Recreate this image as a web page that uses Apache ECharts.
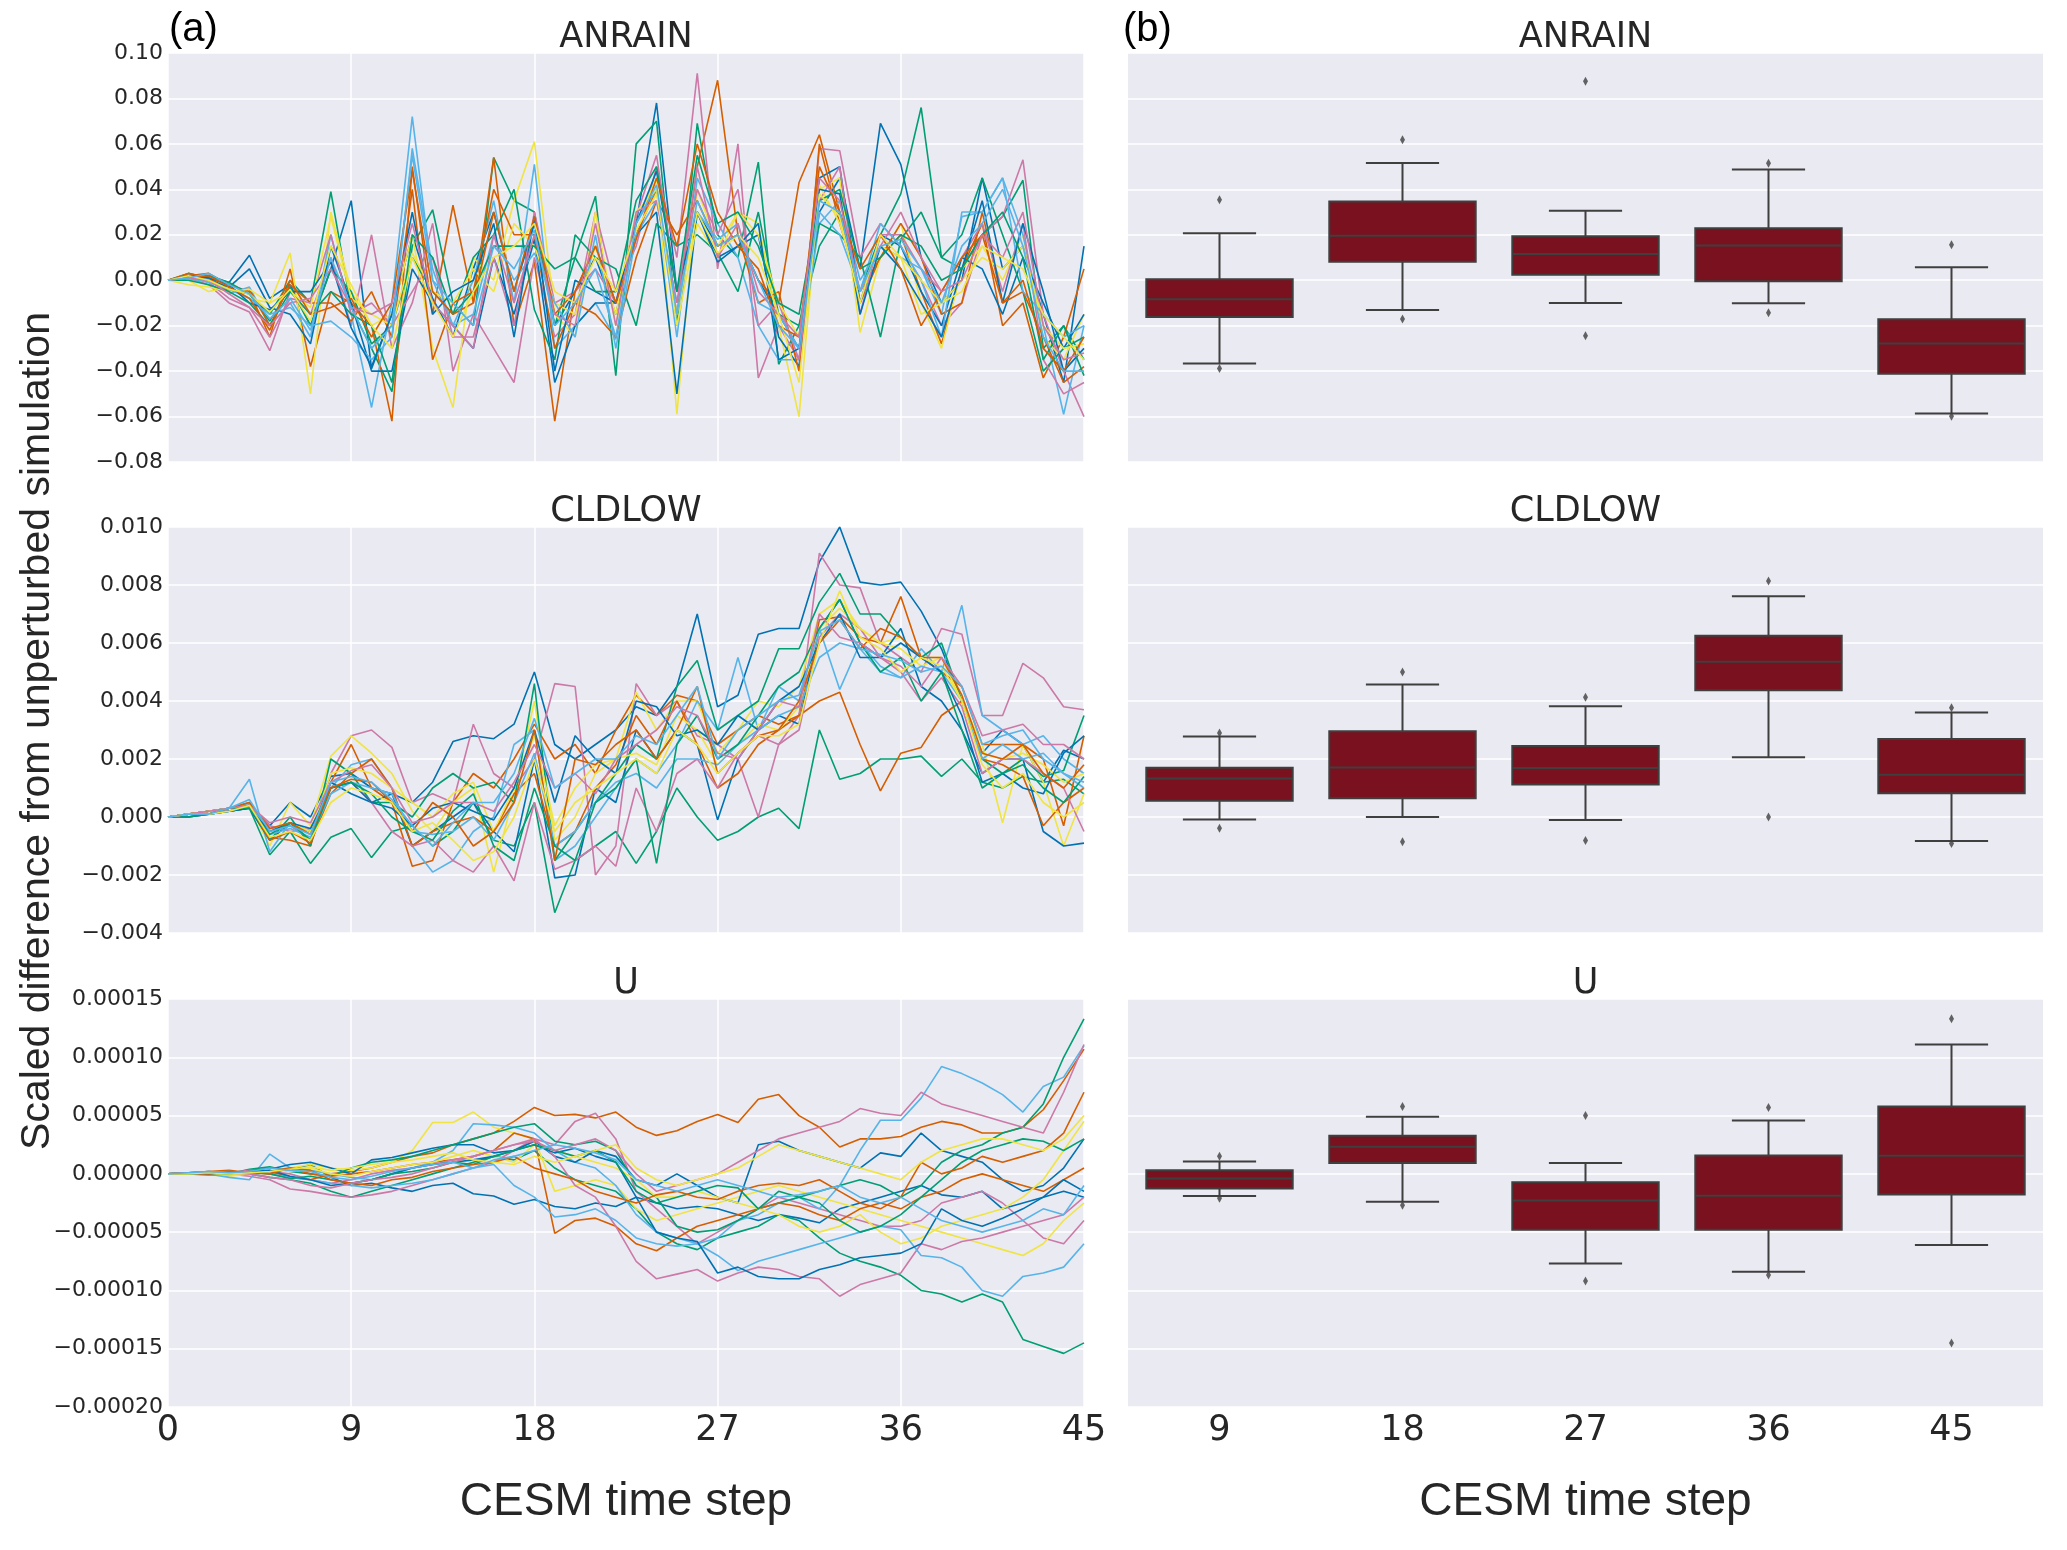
<!DOCTYPE html>
<html>
<head>
<meta charset="utf-8">
<title>Ensemble spread of CESM variables</title>
<script src="https://cdn.jsdelivr.net/npm/echarts@6/dist/echarts.min.js"></script>
<style>
  html, body { margin: 0; padding: 0; background: #ffffff; }
  #chart { width: 2067px; height: 1550px; }
</style>
</head>
<body>
<div id="chart"></div>
<script>
var timeSteps = [0,1,2,3,4,5,6,7,8,9,10,11,12,13,14,15,16,17,18,19,20,21,22,23,24,25,26,27,28,29,30,31,32,33,34,35,36,37,38,39,40,41,42,43,44,45];
var boxSteps = ['9', '18', '27', '36', '45'];
var palette = ['#0072B2', '#009E73', '#D55E00', '#CC79A7', '#F0E442', '#56B4E9'];

// ANRAIN, one row per ensemble member, values in units of 1e-3
var anrainRuns = [
  [0,1,2,-1,11,-8,-2,-20,5,35, -39,-15,20,-8,-25,5,30,-5,25,-20, -5,10,-15,25,78,-5,30,15,20,0, -15,-30,30,45,5,69,51,10,-10,0, 45,5,15,-15,-45,15],
  [0,3,1,-4,-6,-15,0,-10,39,-12, -30,-49,15,31,-10,-20,54,35,30,-20, 10,37,-42,60,70,-20,69,20,10,52, -37,-20,15,30,-5,20,38,76,10,5, 20,28,44,-30,-20,-35],
  [0,2,3,-2,-5,-25,5,-38,-5,-10, -20,-62,50,-15,33,-10,54,-20,8,-62, -5,15,-10,20,40,-15,50,88,20,0, -10,43,64,30,-10,10,20,-5,-28,5, 25,-20,-10,-43,-25,5],
  [0,1,-2,-10,-14,-31,-5,-15,10,-20, 20,-30,-10,25,-40,-15,-30,-45,10,-25, -15,30,-5,15,50,10,91,5,60,-43, -20,-35,58,57,10,25,15,0,-20,-10, 20,28,53,-15,-40,-60],
  [0,0,-5,-3,-8,-10,12,-50,30,-5, -20,-15,20,-30,-56,10,0,35,61,-15, -25,30,-20,25,45,-59,40,15,30,25, -20,-60,40,45,-23,10,25,-10,-30,5, 15,0,20,-25,-35,-15],
  [0,0,1,-6,-3,-20,-10,-25,20,-15, -56,-10,72,0,-20,0,35,-10,51,-30, -20,-10,-26,25,40,-25,45,25,10,-20, -35,-35,25,35,0,15,10,5,-15,28, 30,45,20,-20,-59,-20],
  [0,2,0,-3,5,-12,-15,-28,15,-10, -40,-40,5,-10,-20,-30,10,-15,18,-45, -20,-10,-10,20,30,-50,30,10,15,20, -25,-38,45,50,-10,20,15,-5,-20,10, 5,-15,10,-10,-30,-15],
  [0,1,2,-1,-6,-18,-3,-20,5,-5, -28,-20,10,-5,-15,10,20,40,-13,-35, 20,10,5,-20,25,15,20,12,-5,30, -15,-20,25,20,10,-25,18,30,10,20, 45,20,-5,-40,-30,-25],
  [0,3,1,-5,-4,-20,-2,-10,-10,-18, -5,-25,40,-35,-10,-5,40,20,20,-30, -10,-15,-25,10,35,20,35,15,20,-10, -5,-40,60,25,-5,10,25,10,-15,-10, 30,-10,-5,-25,-45,-38],
  [0,2,-1,-8,-12,-25,-8,-10,20,-15, -10,-20,-5,10,-25,-25,10,-20,30,-10, -5,5,-10,28,55,-5,40,20,40,-20, -10,-35,35,50,-15,20,20,5,-5,10, 25,-5,25,-35,-50,-45],
  [0,-2,-3,-5,-4,-10,-5,-12,28,-8, -15,-20,12,-5,-10,5,-5,25,15,-10, -15,15,-15,30,40,-20,25,10,30,20, -10,-25,42,25,-5,15,10,-15,-10,0, 10,5,15,-20,-30,-28],
  [0,1,-1,-4,-8,-15,-12,-20,-18,-25, -35,-25,58,5,-20,-15,20,0,12,-10, -25,20,-30,20,35,-10,30,18,25,-10, -15,-30,30,20,-5,25,15,0,-25,30, 30,45,-5,-15,-25,-20],
  [0,2,1,-2,-10,-13,-5,-5,8,-21, -38,-15,30,-15,-5,0,25,-25,28,-40, 0,-5,-10,25,48,-5,30,8,15,25, -35,-30,40,38,-15,15,5,-10,-25,5, 35,-10,25,-5,-40,-30],
  [0,0,-2,-5,-10,-20,-5,-15,-5,-15, -20,-45,20,10,-15,-5,15,15,15,5, 10,-5,-5,35,50,-5,55,25,30,15, -10,-15,35,40,5,10,20,15,0,5, 20,30,10,-35,-20,-42],
  [0,1,2,-3,-8,-22,0,-15,-12,-8, -25,-10,48,-5,-15,-10,30,-5,28,-15, -5,15,-10,18,45,15,60,30,15,5, -20,-25,50,30,5,20,5,-20,-5,10, 20,-10,0,-30,-40,-25],
  [0,1,0,-6,-12,-20,-10,-8,5,-12, -15,-10,25,-10,-20,-30,20,-10,20,-15, -20,25,-20,30,35,-10,50,10,25,-5, -15,-25,45,35,-5,15,30,10,-5,0, 20,10,30,-20,-35,-32],
  [0,2,0,-4,-6,-14,-4,-18,15,-2, -20,-30,10,-10,-25,-5,10,15,25,-5, -10,10,-5,22,38,-15,30,12,20,10, -15,-45,38,28,-10,20,10,0,-10,-5, 15,10,5,-15,-25,-35],
  [0,1,3,-2,-6,-17,-8,-22,10,-12, -30,-20,55,0,-10,-20,15,5,22,-20, -10,5,-25,25,42,-15,35,15,20,0, -20,-30,35,30,-5,15,18,5,-10,15, 25,40,15,-25,-40,-40]
];
// [lower whisker, Q1, median, Q3, upper whisker] at steps 9, 18, 27, 36, 45
var anrainBoxes = [
  [-36.6, -16.2, -8.4, 0.4, 20.7],
  [-13.1, 8.1, 19.6, 34.7, 51.6],
  [-10.0, 2.4, 11.5, 19.4, 30.6],
  [-10.1, -0.4, 15.3, 22.9, 48.7],
  [-58.7, -41.2, -27.9, -17.2, 5.7]
];
var anrainFliers = [['9', 35.4], ['9', -38.8], ['18', 61.8], ['18', -17.1], ['27', 87.6], ['27', -24.4], ['36', 51.5], ['36', -14.3], ['45', 15.6], ['45', -59.9]];

// CLDLOW, values in units of 1e-4
var cldlowRuns = [
  [0,1,2,3,4,-3,5,0,14,15, 10,8,5,12,26,28,27,32,50,25, 20,25,30,38,35,45,70,38,42,63, 65,65,88,100,81,80,81,71,58,40, 22,30,25,12,23,20],
  [0,1,1,2,3,-13,-5,-16,-7,-4, -14,-5,-3,-10,-5,5,-8,-10,5,-33, -15,-10,-5,-16,-5,10,0,-8,-5,0, 3,-4,30,13,15,20,20,21,14,20, 12,10,14,12,13,8],
  [0,1,2,3,5,-7,-8,-10,12,25, 10,5,-17,-15,5,15,10,20,32,20, 25,15,30,42,35,42,40,25,30,35, 32,35,68,69,62,60,76,55,50,45, 25,25,25,20,-3,28],
  [0,1,2,3,3,-4,-3,-8,15,28, 30,24,5,8,5,32,15,10,20,46, 45,-20,-10,46,35,40,28,25,20,0, 25,35,91,80,79,60,55,50,65,63, 35,35,53,48,38,37],
  [0,0,1,3,4,-10,5,-3,21,28, 22,15,2,-5,5,10,-19,8,40,-8, 0,15,20,43,30,40,40,22,30,40, 38,45,70,75,65,60,62,55,55,40, 25,-2,25,12,-10,8],
  [0,1,2,3,13,-12,-2,-8,10,18, 20,10,-10,-19,-15,-5,0,25,30,-15, -10,0,10,20,15,25,40,30,55,30, 45,40,65,44,60,52,48,58,50,73, 35,30,25,28,20,15],
  [0,1,1,2,3,-8,-2,-5,12,8, 5,8,-10,-5,0,5,-5,-12,20,-21, -20,10,5,30,20,30,25,-1,20,30, 35,32,65,75,60,55,65,45,40,30, 15,20,20,-5,-10,-9],
  [0,1,2,3,4,-8,0,-10,20,15, 5,5,0,10,15,10,12,5,46,-15, -5,5,15,25,20,45,54,30,35,40, 58,58,74,84,70,70,62,55,60,40, 20,15,20,14,16,35],
  [0,1,2,2,4,-8,-5,-9,8,15, 20,10,-10,-5,-2,0,-5,8,15,-10, -5,10,18,35,25,40,25,10,15,25, 30,35,40,43,25,9,22,24,35,40, 20,18,14,-3,5,10],
  [0,0,2,2,4,-3,-5,-4,10,12, 5,-5,-10,-8,-15,-19,-10,-22,5,-18, -15,-10,-17,10,-5,15,20,10,22,28, 25,30,62,70,65,55,50,40,48,38, 15,20,20,15,10,-5],
  [0,1,2,3,3,-5,-2,-5,15,17, 15,10,5,0,8,12,-5,10,28,-3, 10,18,20,22,18,35,30,18,25,32, 30,38,65,72,65,60,58,52,55,40, 22,20,22,18,12,15],
  [0,0,1,2,5,-6,-4,-7,8,12, 10,8,-5,-6,-5,0,-8,5,22,-10, -5,5,12,15,10,20,20,18,25,30, 35,38,55,60,58,50,48,52,50,40, 20,25,20,22,15,10],
  [0,0,1,2,3,-5,-2,-4,10,12, 5,3,-3,3,5,2,-1,10,30,5, 28,20,15,40,38,28,30,25,35,30, 40,45,60,70,55,55,60,55,50,35, 12,15,10,8,22,28],
  [0,0,1,3,3,-6,-2,-8,10,12, 8,0,-5,-8,2,8,-10,-15,10,-10, -15,5,10,20,-16,25,35,20,25,35, 45,50,65,75,60,50,55,40,50,30, 10,15,18,10,5,14],
  [0,1,1,3,5,-4,-2,-6,10,13, 12,5,-5,5,0,-10,-5,5,30,-15, 20,18,25,30,20,30,45,15,22,28, 30,40,60,68,58,65,62,55,55,42, 22,20,25,15,10,18],
  [0,1,2,3,4,-2,0,-2,12,16, 18,10,-2,0,5,5,2,12,25,10, 15,8,20,25,30,38,35,22,20,30, 40,38,70,62,60,55,52,45,55,45, 28,30,32,25,25,20],
  [0,1,1,2,4,-7,-5,-8,5,10, 8,5,-5,-2,-8,-15,-12,0,20,-5, 5,10,15,20,15,30,25,15,22,28, 28,32,60,78,62,58,50,55,52,40, 18,10,15,5,0,5],
  [0,1,1,3,6,-5,-3,-6,12,14, 12,6,-3,-10,-2,5,5,15,34,10, 15,20,20,28,25,35,45,20,30,35, 40,42,64,68,58,56,54,50,52,45, 25,28,30,20,15,12]
];
var cldlowBoxes = [
  [-0.9, 5.6, 13.3, 17.0, 27.8],
  [0.0, 6.5, 17.1, 29.6, 45.7],
  [-1.0, 11.2, 16.9, 24.5, 38.2],
  [20.6, 43.7, 53.5, 62.5, 76.1],
  [-8.3, 8.2, 14.6, 26.9, 36.0]
];
var cldlowFliers = [['9', 29.0], ['9', -3.9], ['18', 50.0], ['18', -8.5], ['27', 41.3], ['27', -8.1], ['36', 81.4], ['36', 0.0], ['45', 37.7], ['45', -9.1]];

// U, values in units of 1e-6
var uRuns = [
  [0,1,0,-1,2,5,3,8,-3,-10, -8,-12,-15,-10,-8,-17,-19,-26,-22,-28, -30,-25,-28,-20,-25,-30,-28,-30,-35,-40, -35,-38,-42,-30,-25,-20,-15,-10,-18,-20, -15,-30,-25,-20,-15,-20],
  [0,0,1,2,0,-3,-5,-8,-15,-20, -15,-10,-5,0,5,10,15,12,20,5, -5,-10,-15,-30,-50,-60,-65,-55,-50,-45, -35,-40,-55,-68,-75,-80,-87,-100,-103,-110, -103,-110,-142,-148,-154,-145],
  [0,1,2,3,1,2,-3,-5,0,2, 5,10,15,18,25,30,35,45,57,50, 51,48,53,40,33,37,45,51,44,64, 68,50,40,23,30,30,32,40,45,42, 35,35,40,55,80,107],
  [0,0,1,0,-2,-5,-13,-15,-18,-20, -18,-15,-10,-5,0,5,10,20,30,25, 45,52,30,-15,-30,-45,-60,-50,-40,-30, -20,-25,-30,-35,-40,-45,-45,-40,-25,-20, -15,-25,-40,-55,-60,-40],
  [0,0,-1,-2,0,3,5,8,5,3, 5,10,20,44,44,53,40,35,30,-15, -10,-5,-10,-30,-40,-35,-30,-25,-20,-15, -10,-15,-20,-25,-30,-35,-40,-45,-50,-55, -60,-65,-70,-60,-40,-25],
  [0,1,0,-3,-5,17,5,3,0,-3, -5,0,5,10,20,43,42,40,35,20, 10,5,-10,-35,-50,-55,-60,-55,-40,-35, -25,-20,-30,-10,20,46,46,65,92,86, 78,68,53,75,83,110],
  [0,0,1,0,3,4,8,10,5,0, 12,14,18,22,25,25,18,20,28,15, 10,20,15,-5,-10,0,-10,-20,-25,25, 28,20,15,10,5,18,15,35,20,15, 10,-5,-15,-10,5,30],
  [0,1,2,0,4,6,2,0,-2,5, 10,12,15,20,25,30,35,40,43,28, 25,28,20,-10,-20,-45,-50,-48,-40,-30, -25,-20,-15,-10,-5,-10,-20,-10,10,20, 25,35,40,60,100,133],
  [0,0,-1,0,2,3,5,0,-2,0, 2,5,8,10,12,15,20,35,30,-51, -40,-38,-45,-60,-66,-55,-45,-40,-35,-30, -25,-28,-35,-40,-30,-25,-30,-20,-15,-5, 0,-5,-10,-15,-5,5],
  [0,0,1,1,3,2,0,-5,-8,-5, 0,3,5,8,12,15,20,25,30,15, -10,-20,-45,-75,-90,-86,-82,-92,-85,-80, -82,-88,-90,-105,-95,-90,-85,-60,-65,-58, -55,-50,-45,-40,-35,-20],
  [0,1,0,-1,2,4,2,5,0,-2, 2,5,8,10,15,20,15,10,25,20, 15,10,5,-5,-20,-20,-15,-20,-25,-30, -35,-45,-50,-45,-35,-50,-60,-55,-45,-40, -35,-30,-20,-5,20,45],
  [0,0,1,2,1,0,-3,-5,-8,-10, -12,-10,-8,-5,0,5,8,-10,-20,-37, -35,-30,-40,-55,-60,-62,-60,-70,-83,-75, -70,-65,-60,-55,-50,-45,-48,-70,-72,-80, -100,-105,-88,-85,-80,-60],
  [0,1,0,1,2,3,-2,-5,-10,-8, -5,0,5,8,10,12,15,20,25,18, 22,15,10,-20,-50,-55,-58,-85,-80,-88, -90,-90,-82,-78,-72,-70,-68,-60,-30,-40, -45,-38,-30,-20,-5,-15],
  [0,0,1,0,2,0,-4,-2,-5,-8, -5,0,2,5,10,8,15,20,25,20, 15,20,10,-15,-25,-20,-15,-10,-12,-30, -15,-20,-25,-40,-50,-45,-35,-20,-5,10, 20,25,30,28,20,30],
  [0,1,0,2,1,0,5,3,-5,-8, -10,-5,-3,2,5,8,10,15,5,0, -5,-15,-20,-25,-18,-15,-20,-22,-15,-10, -8,-10,-5,-15,-25,-30,-20,10,0,5, 15,10,15,20,35,70],
  [0,1,2,1,0,-3,-5,-10,-12,-8, -5,-3,0,5,10,15,20,25,28,20, 25,30,20,0,-15,-10,-5,0,10,20, 30,35,40,45,56,52,50,70,60,55, 50,45,40,35,70,111],
  [0,0,1,0,1,2,4,6,3,5, 8,10,12,15,18,12,10,8,15,10, 15,20,25,5,-5,-10,-5,0,5,15, 25,20,15,10,5,0,-5,10,20,25, 30,30,25,20,30,50],
  [0,1,2,1,2,5,3,2,-3,-5, -2,2,5,8,10,5,12,15,20,25, 22,18,12,-5,-10,-15,-10,-5,-10,-15, -20,-18,-15,-10,-20,-25,-20,-30,-40,-45, -50,-45,-40,-30,-35,-10]
];
var uBoxes = [
  [-19.0, -12.6, -3.9, 3.2, 10.6],
  [-23.9, 9.4, 23.2, 32.6, 49.0],
  [-77.0, -48.0, -22.9, -7.1, 9.4],
  [-83.9, -48.0, -18.7, 15.8, 45.8],
  [-61.0, -17.7, 15.5, 57.7, 111.0]
];
var uFliers = [['9', 15.0], ['9', -21.0], ['18', 57.7], ['18', -27.0], ['27', 50.0], ['27', -92.0], ['36', 57.0], ['36', -86.8], ['45', 133.0], ['45', -145.0]];

var panels = [
  { name: 'ANRAIN', runs: anrainRuns, boxes: anrainBoxes, fliers: anrainFliers, min: -80, max: 100, step: 20, unit: 1e-3, digits: 2, top: 53, height: 409 },
  { name: 'CLDLOW', runs: cldlowRuns, boxes: cldlowBoxes, fliers: cldlowFliers, min: -40, max: 100, step: 20, unit: 1e-4, digits: 3, top: 527, height: 406 },
  { name: 'U', runs: uRuns, boxes: uBoxes, fliers: uFliers, min: -200, max: 150, step: 50, unit: 1e-6, digits: 5, top: 999, height: 408 }
];

var SANS = '"Liberation Sans", Arial, sans-serif';
var TICKS = '"DejaVu Sans", sans-serif';
var INK = '#262626';
var LEFT_X = 168, LEFT_W = 916, RIGHT_X = 1128, RIGHT_W = 915;

function tickText(unit, digits) {
  return function (v) {
    var x = v * unit;
    var s = Math.abs(x).toFixed(digits);
    return (x < -1e-12 ? '\u2212' : '') + s;
  };
}

function renderBox(params, api) {
  var i = api.value(0);
  var pLow = api.coord([i, api.value(1)]);
  var pQ1 = api.coord([i, api.value(2)]);
  var pMed = api.coord([i, api.value(3)]);
  var pQ3 = api.coord([i, api.value(4)]);
  var pHigh = api.coord([i, api.value(5)]);
  var band = api.size([1, 0])[0];
  var cx = pMed[0];
  var half = band * 0.4;
  var cap = band * 0.2;
  var edge = { stroke: '#3f3f3f', lineWidth: 2 };
  return {
    type: 'group',
    children: [
      { type: 'line', shape: { x1: cx, y1: pQ3[1], x2: cx, y2: pHigh[1] }, style: edge },
      { type: 'line', shape: { x1: cx, y1: pQ1[1], x2: cx, y2: pLow[1] }, style: edge },
      { type: 'line', shape: { x1: cx - cap, y1: pHigh[1], x2: cx + cap, y2: pHigh[1] }, style: edge },
      { type: 'line', shape: { x1: cx - cap, y1: pLow[1], x2: cx + cap, y2: pLow[1] }, style: edge },
      { type: 'rect', shape: { x: cx - half, y: pQ3[1], width: half * 2, height: pQ1[1] - pQ3[1] },
        style: { fill: '#7A111E', stroke: '#3f3f3f', lineWidth: 2 } },
      { type: 'line', shape: { x1: cx - half, y1: pMed[1], x2: cx + half, y2: pMed[1] }, style: edge }
    ]
  };
}

var grids = [], xAxes = [], yAxes = [], series = [], texts = [];

panels.forEach(function (p, r) {
  var last = r === panels.length - 1;
  var gl = r * 2, gr = r * 2 + 1;
  grids.push({ left: LEFT_X, top: p.top, width: LEFT_W, height: p.height, show: true, backgroundColor: '#EAEAF2', borderWidth: 0 });
  grids.push({ left: RIGHT_X, top: p.top, width: RIGHT_W, height: p.height, show: true, backgroundColor: '#EAEAF2', borderWidth: 0 });

  xAxes.push({
    gridIndex: gl, type: 'value', min: 0, max: 45, interval: 9,
    axisLine: { show: false }, axisTick: { show: false },
    splitLine: { show: true, lineStyle: { color: '#ffffff', width: 1.5 } },
    axisLabel: { show: last, fontSize: 35, color: INK, fontFamily: TICKS, margin: 6 }
  });
  xAxes.push({
    gridIndex: gr, type: 'category', data: boxSteps,
    axisLine: { show: false }, axisTick: { show: false }, splitLine: { show: false },
    axisLabel: { show: last, fontSize: 35, color: INK, fontFamily: TICKS, margin: 6 }
  });
  yAxes.push({
    gridIndex: gl, type: 'value', min: p.min, max: p.max, interval: p.step,
    axisLine: { show: false }, axisTick: { show: false },
    splitLine: { show: true, lineStyle: { color: '#ffffff', width: 1.5 } },
    axisLabel: { fontSize: 22, color: INK, fontFamily: TICKS, margin: 5, formatter: tickText(p.unit, p.digits) }
  });
  yAxes.push({
    gridIndex: gr, type: 'value', min: p.min, max: p.max, interval: p.step,
    axisLine: { show: false }, axisTick: { show: false },
    splitLine: { show: true, lineStyle: { color: '#ffffff', width: 1.5 } },
    axisLabel: { show: false }
  });

  p.runs.forEach(function (run, k) {
    series.push({
      type: 'line', xAxisIndex: gl, yAxisIndex: gl,
      data: run.map(function (v, i) { return [timeSteps[i], v]; }),
      showSymbol: false, symbol: 'none', silent: true,
      lineStyle: { width: 1.6, color: palette[k % palette.length] },
      itemStyle: { color: palette[k % palette.length] }
    });
  });

  series.push({
    type: 'custom', xAxisIndex: gr, yAxisIndex: gr,
    data: p.boxes.map(function (b, i) { return [i].concat(b); }),
    renderItem: renderBox, silent: true, z: 3
  });
  series.push({
    type: 'scatter', xAxisIndex: gr, yAxisIndex: gr,
    data: p.fliers, symbol: 'diamond', symbolSize: [5, 9], silent: true, z: 4,
    itemStyle: { color: '#3f3f3f' }
  });

  var titleY = p.top - 15;
  texts.push({ type: 'text', x: LEFT_X + LEFT_W / 2, y: titleY,
    style: { text: p.name, font: '35px ' + TICKS, fill: INK, align: 'center', verticalAlign: 'middle' } });
  texts.push({ type: 'text', x: RIGHT_X + RIGHT_W / 2, y: titleY,
    style: { text: p.name, font: '35px ' + TICKS, fill: INK, align: 'center', verticalAlign: 'middle' } });
});

texts.push({ type: 'text', x: 169, y: 30, style: { text: '(a)', font: '40px ' + SANS, fill: '#000000', align: 'left', verticalAlign: 'middle' } });
texts.push({ type: 'text', x: 1123, y: 30, style: { text: '(b)', font: '40px ' + SANS, fill: '#000000', align: 'left', verticalAlign: 'middle' } });
texts.push({ type: 'text', x: LEFT_X + LEFT_W / 2, y: 1502, style: { text: 'CESM time step', font: '46px ' + SANS, fill: INK, align: 'center', verticalAlign: 'middle' } });
texts.push({ type: 'text', x: RIGHT_X + RIGHT_W / 2, y: 1502, style: { text: 'CESM time step', font: '46px ' + SANS, fill: INK, align: 'center', verticalAlign: 'middle' } });
texts.push({ type: 'text', x: 38, y: 731, rotation: Math.PI / 2,
  style: { text: 'Scaled difference from unperturbed simulation', font: '41px ' + SANS, fill: INK, align: 'center', verticalAlign: 'middle' } });

var chart = echarts.init(document.getElementById('chart'), null, { renderer: 'canvas' });
chart.setOption({
  animation: false,
  backgroundColor: '#ffffff',
  grid: grids,
  xAxis: xAxes,
  yAxis: yAxes,
  series: series,
  graphic: texts
});
</script>
</body>
</html>
